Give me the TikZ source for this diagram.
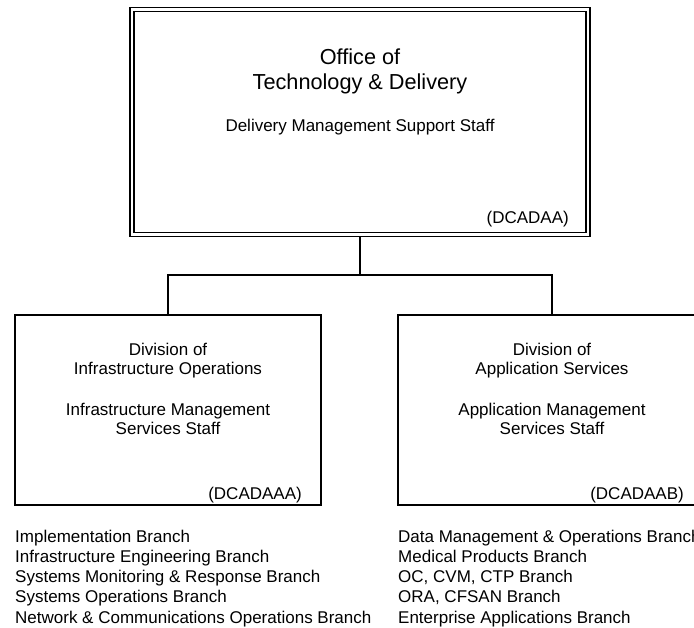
\documentclass[tikz,border=0pt]{standalone}
\usepackage{fontspec}
\setmainfont{Liberation Sans}
\begin{document}
\begin{tikzpicture}[x=1pt,y=-1pt,
  orgbox/.style={draw, line width=1.6pt, inner sep=0pt, minimum width=306pt, minimum height=190pt},
  topbox/.style={draw, double, double distance=2.4pt, line width=1.6pt, inner sep=0pt, outer sep=2.8pt, minimum width=456.5pt, minimum height=225pt},
  wire/.style={line width=1.5pt},
  big/.style={font=\fontsize{21.7}{25}\selectfont, inner sep=0pt, anchor=base},
  txt/.style={font=\fontsize{17}{20}\selectfont, inner sep=0pt, anchor=base},
  lbl/.style={font=\fontsize{17}{20}\selectfont, inner sep=0pt, anchor=base east}]
\useasboundingbox (0,0) rectangle (694,628);
% boxes
\node[topbox] (top) at (360,122) {};
\node[orgbox] (left) at (168,410) {};
\node[orgbox, minimum width=308pt] (right) at (552,410) {};
% connectors
\coordinate (j) at (360,275);
\draw[wire] (top.south) -- (j);
\draw[wire] (left.north) |- (j) -| (right.north);
% top box text
\node[big] (t1) at (360,65) {Office of};
\node[big] (t2) at (360,89.5) {Technology \& Delivery};
\node[txt] (t3) at (360,131.7) {Delivery Management Support Staff};
\node[lbl] (t4) at (569,223.3) {(DCADAA)};
% left box text
\node[txt] (l1) at (168,355.7) {Division of};
\node[txt] (l2) at (168,375) {Infrastructure Operations};
\node[txt] (l3) at (168,416) {Infrastructure Management};
\node[txt] (l4) at (168,435) {Services Staff};
\node[lbl] (l5) at (302,500) {(DCADAAA)};
% right box text
\node[txt] (r1) at (552,355.7) {Division of};
\node[txt] (r2) at (552,375) {Application Services};
\node[txt] (r3) at (552,416) {Application Management};
\node[txt] (r4) at (552,435) {Services Staff};
\node[lbl] (r5) at (684,500) {(DCADAAB)};
% branch lists
\node[txt, anchor=base west] (a1) at (15,542) {Implementation Branch};
\node[txt, anchor=base west] (a2) at (15,562.3) {Infrastructure Engineering Branch};
\node[txt, anchor=base west] (a3) at (15,582.6) {Systems Monitoring \& Response Branch};
\node[txt, anchor=base west] (a4) at (15,602.9) {Systems Operations Branch};
\node[txt, anchor=base west] (a5) at (15,623.2) {Network \& Communications Operations Branch};
\node[txt, anchor=base west] (b1) at (398,542) {Data Management \& Operations Branch};
\node[txt, anchor=base west] (b2) at (398,562.3) {Medical Products Branch};
\node[txt, anchor=base west] (b3) at (398,582.6) {OC, CVM, CTP Branch};
\node[txt, anchor=base west] (b4) at (398,602.9) {ORA, CFSAN Branch};
\node[txt, anchor=base west] (b5) at (398,623.2) {Enterprise Applications Branch};
\end{tikzpicture}
\end{document}
